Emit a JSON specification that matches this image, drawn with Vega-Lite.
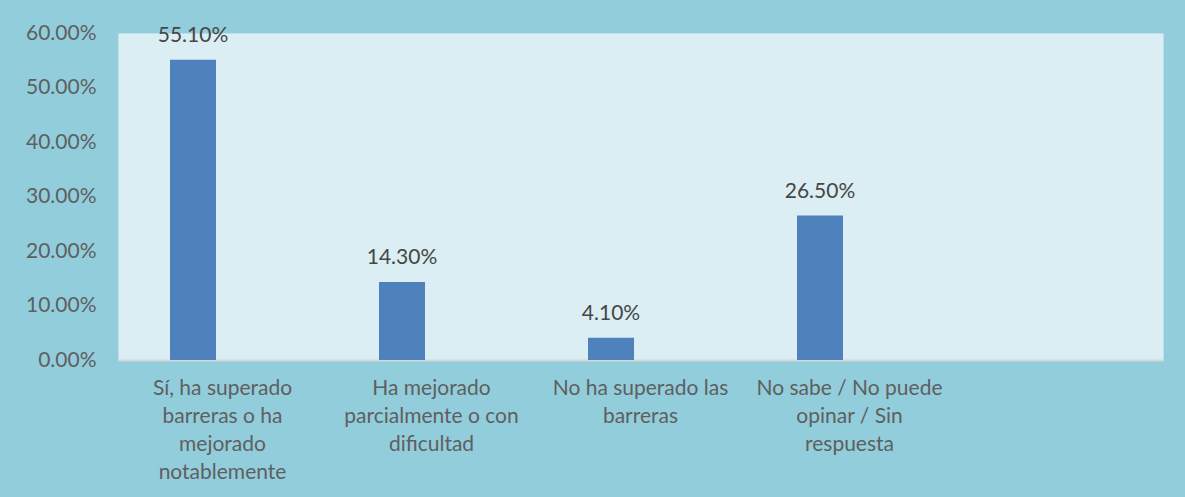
{
  "$schema": "https://vega.github.io/schema/vega-lite/v6.json",
  "autosize": "none",
  "width": 1045,
  "height": 327,
  "padding": {"left": 118, "top": 33, "right": 22, "bottom": 137},
  "background": "#92CDDC",
  "config": {
    "view": {"fill": "#DAEEF3", "stroke": "#BCDFE9", "strokeWidth": 1},
    "font": "Lato"
  },
  "data": {
    "values": [
      {"cat": "Sí, ha superado|barreras o ha|mejorado|notablemente", "series": "a", "value": 0.551},
      {"cat": "Ha mejorado|parcialmente o con|dificultad", "series": "a", "value": 0.143},
      {"cat": "No ha superado las|barreras", "series": "a", "value": 0.041},
      {"cat": "No sabe / No puede|opinar / Sin|respuesta", "series": "a", "value": 0.265}
    ]
  },
  "encoding": {
    "x": {
      "field": "cat",
      "type": "nominal",
      "sort": null,
      "scale": {
        "domain": [
          "Sí, ha superado|barreras o ha|mejorado|notablemente",
          "Ha mejorado|parcialmente o con|dificultad",
          "No ha superado las|barreras",
          "No sabe / No puede|opinar / Sin|respuesta",
          " "
        ],
        "paddingInner": 0,
        "paddingOuter": 0
      },
      "axis": {
        "title": null,
        "labelAngle": 0,
        "labelExpr": "split(datum.label, '|')",
        "labelFont": "Lato",
        "labelFontSize": 21,
        "labelColor": "#5F5F5F",
        "labelLineHeight": 28,
        "labelPadding": 17,
        "labelLimit": 400,
        "ticks": false,
        "domainColor": "#D3D8DA",
        "domainWidth": 2,
        "grid": false
      }
    },
    "xOffset": {
      "field": "series",
      "type": "nominal",
      "scale": {"domain": ["a", "b"], "paddingInner": 0.2203, "paddingOuter": 0.8814}
    },
    "y": {
      "field": "value",
      "type": "quantitative",
      "scale": {"domain": [0, 0.6], "nice": false},
      "axis": {
        "title": null,
        "values": [0, 0.1, 0.2, 0.3, 0.4, 0.5, 0.6],
        "format": ".2%",
        "labelFont": "Lato",
        "labelFontSize": 21,
        "labelColor": "#5F5F5F",
        "labelPadding": 22,
        "ticks": false,
        "domain": false,
        "grid": false
      }
    }
  },
  "layer": [
    {"mark": {"type": "bar", "color": "#4F81BD"}},
    {
      "mark": {"type": "text", "baseline": "alphabetic", "dy": -18, "font": "Lato", "fontSize": 21, "color": "#464646"},
      "encoding": {"text": {"field": "value", "type": "quantitative", "format": ".2%"}}
    }
  ]
}
